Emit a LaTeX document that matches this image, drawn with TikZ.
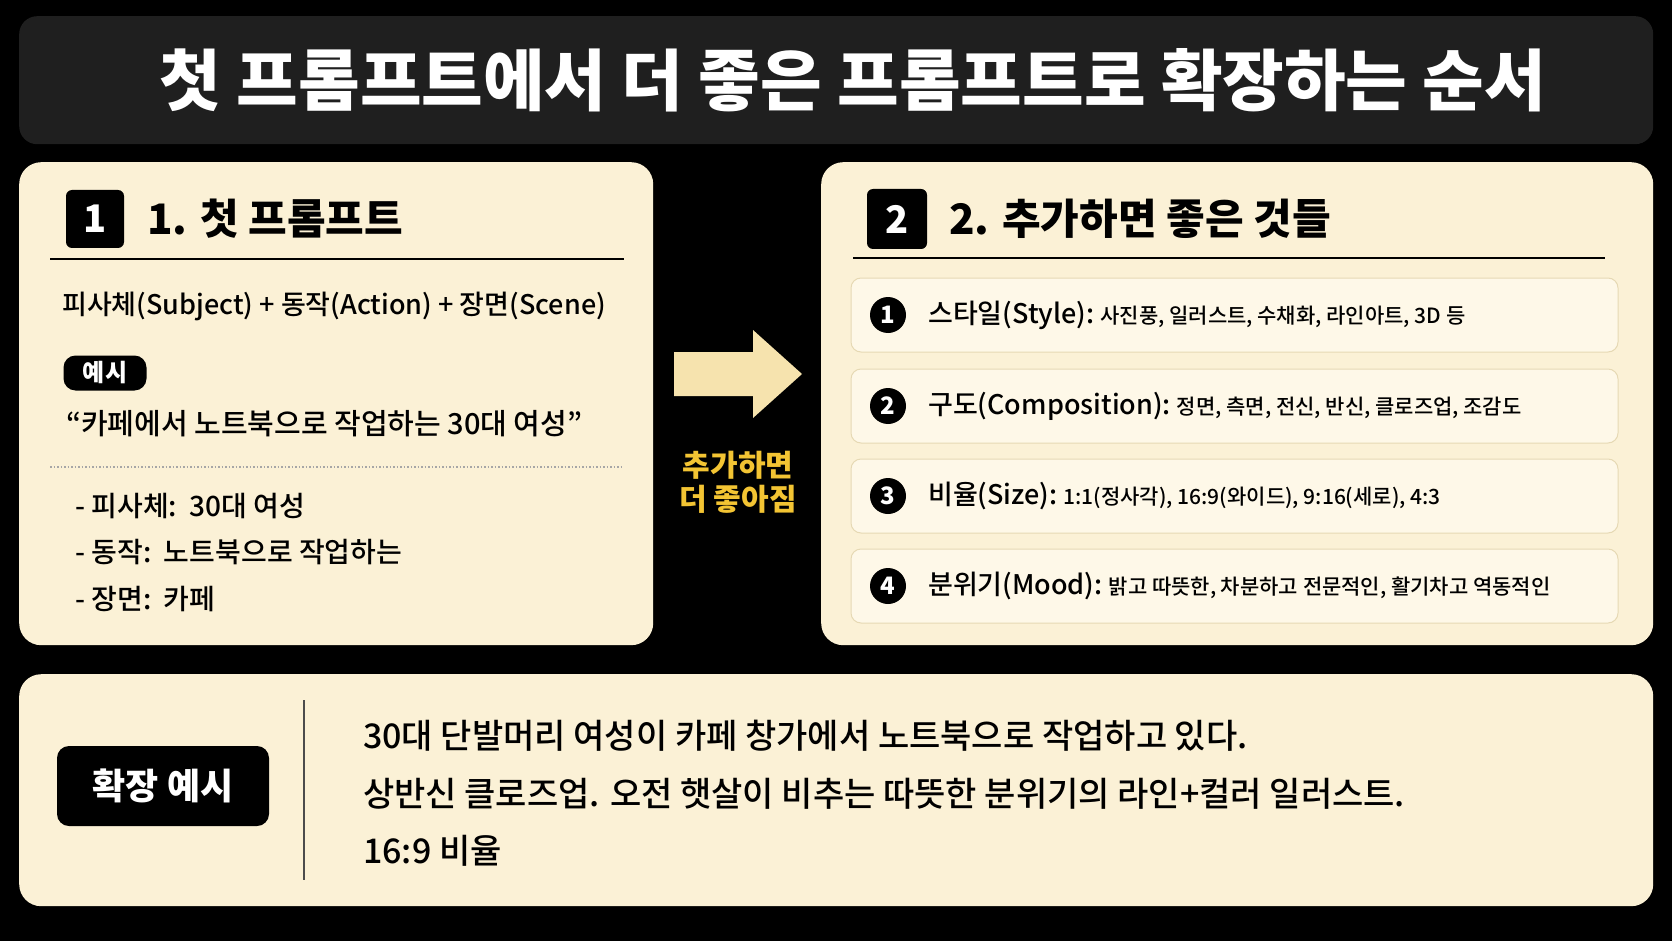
\documentclass[tikz,border=0pt]{standalone}
\usepackage{fontspec}
\setmainfont{Noto Sans CJK KR}
\newfontfamily\krmed{Noto Sans CJK KR Medium}
\definecolor{cream}{HTML}{FBF1D6}
\definecolor{rowbg}{HTML}{FEF8E8}
\definecolor{rowln}{HTML}{E6D9B4}
\definecolor{arrowc}{HTML}{F6E3AE}
\definecolor{ylw}{HTML}{F3C433}
\newcommand{\fs}[1]{\fontsize{#1}{#1}\selectfont}
\begin{document}
\begin{tikzpicture}[x=1pt,y=-1pt,
  panel/.style={fill=cream,rounded corners=22pt,draw=none},
  blk/.style={fill=black,rounded corners=6pt},
  row/.style={fill=rowbg,draw=rowln,line width=1pt,rounded corners=10pt},
  num/.style={circle,fill=black,text=white,inner sep=0pt,minimum size=36pt,font=\bfseries\fs{24}},
  txt/.style={anchor=west,inner sep=0pt,font=\bfseries\fs{28}}]
\fill[black] (0,0) rectangle (1672,941);
\useasboundingbox (0,0) rectangle (1672,941);
% title
\node[fill=black!88,rounded corners=18pt,minimum width=1634pt,minimum height=128pt,anchor=north west] (bar) at (19,16) {};
\node[text=white,font=\bfseries\fs{67}] (title) at (853,80) {첫 프롬프트에서 더 좋은 프롬프트로 확장하는 순서};
% panels
\node[panel,minimum width=634pt,minimum height=483pt,anchor=north west] (lp) at (19,162) {};
\node[panel,minimum width=832pt,minimum height=483pt,anchor=north west] (rp) at (821,162) {};
\node[panel,minimum width=1634pt,minimum height=232pt,anchor=north west] (bp) at (19,674) {};
% left panel
\node[blk,text=white,font=\bfseries\fs{38},minimum size=58pt] (b1) at (95,219) {1};
\node[txt,font=\bfseries\fs{42}] (t1) at (147,219) {1. 첫 프롬프트};
\draw[line width=1.3pt] (50,259) -- (624,259);
\node[txt,font=\krmed\fs{27}] (f) at (62,306) {피사체(Subject) + 동작(Action) + 장면(Scene)};
\node[fill=black,rounded corners=12pt,text=white,font=\bfseries\fs{24},minimum width=83pt,minimum height=35pt] (ex) at (105,373) {예시};
\node[txt,font=\krmed\fs{29}] (q) at (66,424) {“카페에서 노트북으로 작업하는 30대 여성”};
\draw[line width=1.5pt,dotted,draw=black!35] (50,467) -- (624,467);
\node[txt,font=\krmed\fs{28}] (l1) at (75,506) {- 피사체:\ \ 30대 여성};
\node[txt,font=\krmed\fs{28}] (l2) at (75,552) {- 동작:\ \ 노트북으로 작업하는};
\node[txt,font=\krmed\fs{28}] (l3) at (75,599) {- 장면:\ \ 카페};
% arrow
\fill[arrowc] (674,352) -- (753,352) -- (753,330) -- (802,374) -- (753,418) -- (753,396) -- (674,396) -- cycle;
\node[text=ylw,font=\bfseries\fs{30},align=center] (add) at (738,482) {추가하면\\[4pt]더 좋아짐};
% right panel
\node[blk,text=white,font=\bfseries\fs{38},minimum size=60pt] (b2) at (897,219) {2};
\node[txt,font=\bfseries\fs{42}] (t2) at (949,219) {2. 추가하면 좋은 것들};
\draw[line width=1.3pt] (853,258) -- (1605,258);
\foreach \i/\y/\a/\b in {1/315/{스타일(Style):}/{사진풍, 일러스트, 수채화, 라인아트, 3D 등},
  2/406/{구도(Composition):}/{정면, 측면, 전신, 반신, 클로즈업, 조감도},
  3/496/{비율(Size):}/{1:1(정사각), 16:9(와이드), 9:16(세로), 4:3},
  4/586/{분위기(Mood):}/{밝고 따뜻한, 차분하고 전문적인, 활기차고 역동적인}}{
  \node[row,minimum width=767pt,minimum height=74pt] (r\i) at (1234.5,\y) {};
  \node[num] (n\i) at (888,\y) {\i};
  \node[txt,font=\krmed\fs{27}] (a\i) at (928,\y) {\a\ {\fs{21}\b}};
}
% bottom
\node[fill=black,rounded corners=12pt,text=white,font=\bfseries\fs{36},minimum width=212pt,minimum height=80pt] (bx) at (163,786) {확장 예시};
\draw[line width=1.3pt,black!70] (304,700) -- (304,880);
\node[txt,font=\krmed\fs{34}] (s1) at (363,736) {30대 단발머리 여성이 카페 창가에서 노트북으로 작업하고 있다.};
\node[txt,font=\krmed\fs{34}] (s2) at (363,794) {상반신 클로즈업. 오전 햇살이 비추는 따뜻한 분위기의 라인+컬러 일러스트.};
\node[txt,font=\krmed\fs{34}] (s3) at (363,851) {16:9 비율};
\end{tikzpicture}
\end{document}
